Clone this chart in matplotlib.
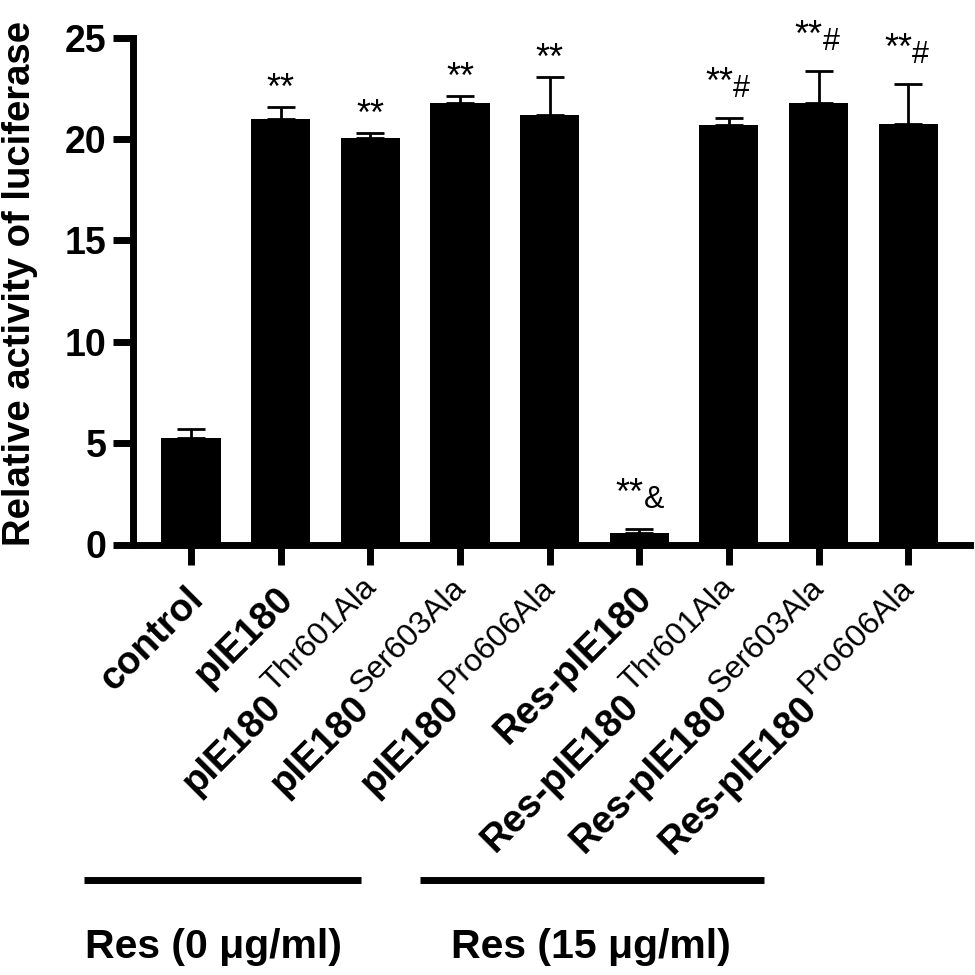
import numpy as np
import matplotlib
matplotlib.use('Agg')
import matplotlib.pyplot as plt
from matplotlib.lines import Line2D

plt.rcParams.update({
    "font.family": ["Liberation Sans", "DejaVu Sans"],
    "axes.linewidth": 5,
})

# data
names = ["control", "pIE180", "pIE180", "pIE180", "pIE180",
         "Res-pIE180", "Res-pIE180", "Res-pIE180", "Res-pIE180"]
supers = ["", "", "Thr601Ala", "Ser603Ala", "Pro606Ala",
          "", "Thr601Ala", "Ser603Ala", "Pro606Ala"]
means = [5.25, 21.0, 20.04, 21.77, 21.18, 0.57, 20.69, 21.77, 20.74]
sems = [0.45, 0.57, 0.25, 0.35, 1.87, 0.19, 0.34, 1.58, 1.97]
stars = ["", "**", "**", "**", "**", "**", "**", "**", "**"]
suffix = ["", "", "", "", "", "&", "#", "#", "#"]
group_labels = ["Res (0 \u03bcg/ml)", "Res (15 \u03bcg/ml)"]
yticks = [0, 5, 10, 15, 20, 25]

W = 975.0
fig = plt.figure(figsize=(9.75, 9.75), dpi=100)
ax = fig.add_axes([132.5/W, 1 - 544.5/W, (970 - 132.5)/W, (544.5 - 37.5)/W])

x = np.arange(len(means))
ax.bar(x, means, width=0.66, color='black', zorder=2)
ax.errorbar(x, means, yerr=[np.zeros(len(sems)), sems], fmt='none',
            ecolor='black', elinewidth=2, capsize=10.4, capthick=2, zorder=1)

ax.set_xlim(-0.653, 8.69)
ax.set_ylim(0, 25)
ax.spines['top'].set_visible(False)
ax.spines['right'].set_visible(False)
ax.set_yticks(yticks)
ax.set_xticks(x)
ax.tick_params(length=14.5, width=5, pad=4, labelsize=27)
ax.tick_params(axis='x', labelbottom=False)
for t in ax.get_yticklabels():
    t.set_fontweight('bold')

fig.text(20/W, 1 - 283/W, "Relative activity of luciferase", rotation=90,
         ha='center', va='center', fontsize=27.5, fontweight='bold')

renderer = fig.canvas.get_renderer()


def width_pt(s, size, weight):
    t = fig.text(0, 0, s, fontsize=size, fontweight=weight)
    w = t.get_window_extent(renderer).width
    t.remove()
    return w * 72 / fig.dpi


trans = ax.get_xaxis_transform()
c = np.cos(np.pi / 4)
base_size, sup_size = 27.5, 23
gap, lift = 2.5, 12.3
for i, (base, sup) in enumerate(zip(names, supers)):
    if sup:
        sx, sy = 5, -32
        ax.annotate(sup, xy=(i, 0), xycoords=trans, xytext=(sx, sy),
                    textcoords='offset points', rotation=45,
                    rotation_mode='anchor', ha='right', va='baseline',
                    fontsize=sup_size, annotation_clip=False)
        w = width_pt(sup, sup_size, 'normal')
        # base text sits below-left of the superscript
        bx = sx - (w + gap) * c + lift * c
        by = sy - (w + gap) * c - lift * c
    else:
        bx, by = 10, -40
    ax.annotate(base, xy=(i, 0), xycoords=trans, xytext=(bx, by),
                textcoords='offset points', rotation=45,
                rotation_mode='anchor', ha='right', va='baseline',
                fontsize=base_size, fontweight='bold', annotation_clip=False)

# significance marks
for i in range(len(means)):
    if not stars[i]:
        continue
    top = means[i] + sems[i]
    if suffix[i]:
        ax.annotate(stars[i], xy=(i, top), xytext=(3, 18), textcoords='offset points',
                    ha='right', va='baseline', fontsize=26)
        ax.annotate(suffix[i], xy=(i, top), xytext=(3, 15), textcoords='offset points',
                    ha='left', va='baseline', fontsize=22)
    else:
        ax.annotate(stars[i], xy=(i, top), xytext=(0, 6), textcoords='offset points',
                    ha='center', va='baseline', fontsize=26)

# treatment groups under the labels
ly = 1 - 879.5/W
fig.add_artist(Line2D([84/W, 361/W], [ly, ly], lw=5, color='black',
                      solid_capstyle='butt', transform=fig.transFigure))
fig.add_artist(Line2D([420/W, 764/W], [ly, ly], lw=5, color='black',
                      solid_capstyle='butt', transform=fig.transFigure))
fig.text(85/W, 1 - 958/W, group_labels[0], ha='left', va='baseline',
         fontsize=29.5, fontweight='bold')
fig.text(451/W, 1 - 958/W, group_labels[1], ha='left', va='baseline',
         fontsize=29.5, fontweight='bold')

fig.savefig('out.png', dpi=100)
